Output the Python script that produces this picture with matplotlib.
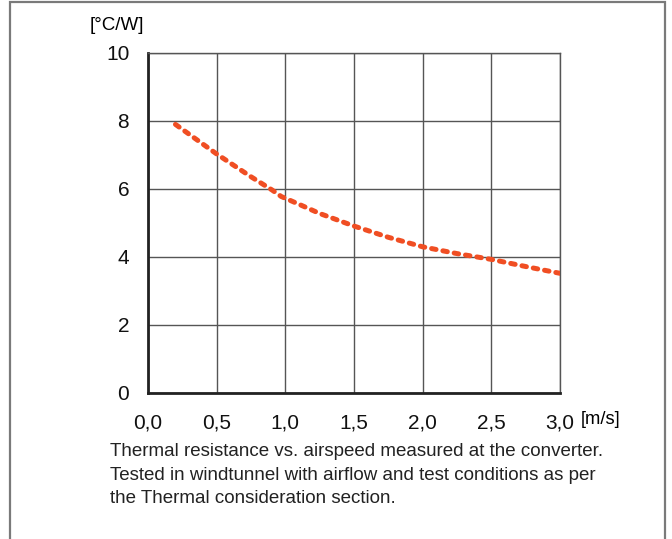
import numpy as np
import matplotlib
matplotlib.use("Agg")
import matplotlib.pyplot as plt
from matplotlib.patches import Rectangle

plt.rcParams['font.family'] = ['Liberation Sans', 'DejaVu Sans']

# curve
airspeed = [0.2, 0.5, 0.75, 0.9, 0.97, 1.1, 1.25, 1.5, 1.75, 2.0, 2.25, 2.5, 2.75, 3.0]
resistance = [7.9, 7.03, 6.36, 5.98, 5.78, 5.55, 5.28, 4.91, 4.58, 4.30, 4.10, 3.93, 3.72, 3.52]

x_ticks = [0.0, 0.5, 1.0, 1.5, 2.0, 2.5, 3.0]
x_labels = ["0,0", "0,5", "1,0", "1,5", "2,0", "2,5", "3,0"]
y_ticks = [0, 2, 4, 6, 8, 10]

caption = ("Thermal resistance vs. airspeed measured at the converter.\n"
           "Tested in windtunnel with airflow and test conditions as per\n"
           "the Thermal consideration section.")

fig = plt.figure(figsize=(6.72, 5.39), dpi=100)
# outer frame, open at the bottom edge
fig.patches.append(Rectangle((9.5 / 672, -0.05), 655 / 672, 1.047, transform=fig.transFigure,
                             fill=False, edgecolor='#7a7a7a', linewidth=1.6))

ax = fig.add_axes([148 / 672, 1 - 393 / 539, 412 / 672, 340 / 539])
ax.plot(airspeed, resistance, color='#F04E23', linewidth=3.6,
        linestyle=(0, (0.9, 1.4)), dash_capstyle='round', zorder=3)

ax.set_xlim(0, 3.0)
ax.set_ylim(0, 10)
ax.set_xticks(x_ticks)
ax.set_xticklabels(x_labels)
ax.set_yticks(y_ticks)
ax.grid(True, color='#555555', linewidth=1.0)
ax.tick_params(length=0, labelsize=15, colors='#111111')
ax.tick_params(axis='x', pad=14.5)
ax.tick_params(axis='y', pad=13.5)
for side in ['top', 'right']:
    ax.spines[side].set_color('#555555')
    ax.spines[side].set_linewidth(1.0)
for side in ['left', 'bottom']:
    ax.spines[side].set_color('#222222')
    ax.spines[side].set_linewidth(2.0)

fig.text(144 / 672, 1 - 25 / 539, "[°C/W]", ha='right', va='center', fontsize=13.5)
fig.text(581 / 672, 1 - 420 / 539, "[m/s]", ha='left', va='center', fontsize=13.2)
# baseline here is the last line's baseline
fig.text(110 / 672, 1 - 503 / 539, caption, ha='left', va='baseline', fontsize=13.5,
         linespacing=1.5, color='#222222')

fig.savefig("out.png", dpi=100)
